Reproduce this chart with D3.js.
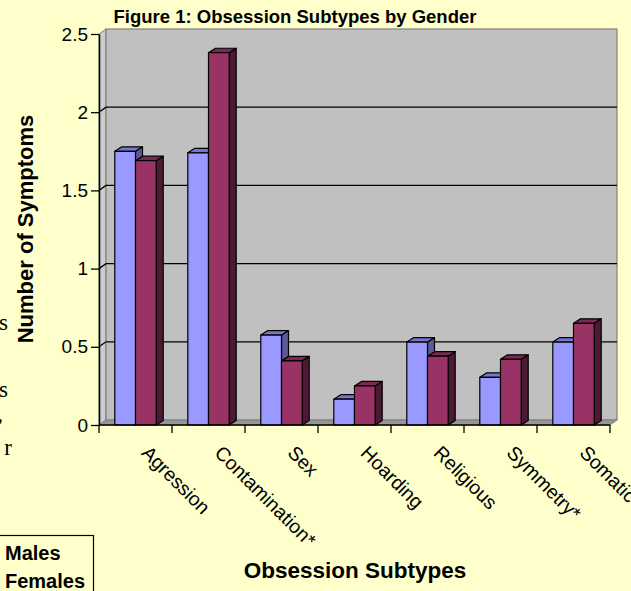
<!DOCTYPE html>
<html>
<head>
<meta charset="utf-8">
<script src="https://cdn.jsdelivr.net/npm/d3@7"></script>
<style>
  html, body { margin: 0; padding: 0; background: #FFFFCC; overflow: hidden; }
  svg { display: block; }
  text { font-family: "Liberation Sans", Arial, sans-serif; fill: #000; }
</style>
</head>
<body>
<svg id="chart" width="631" height="591"></svg>
<script>
// Obsession subtypes: mean number of symptoms by gender
const categories = ["Agression", "Contamination*", "Sex", "Hoarding", "Religious", "Symmetry*", "Somatic"];
const series = ["Males", "Females"];
const males   = [1.75, 1.74, 0.575, 0.165, 0.53, 0.305, 0.53];
const females = [1.69, 2.38, 0.41, 0.25, 0.44, 0.42, 0.65];
const yTicks = [0, 0.5, 1, 1.5, 2, 2.5];
const yTickLabels = ["0", "0.5", "1", "1.5", "2", "2.5"];

const values = { Males: males, Females: females };
const faces = {
  Males:   { front: "#9999FF", top: "#7676CC", side: "#5A5A99" },
  Females: { front: "#993366", top: "#7A2952", side: "#4C1A33" }
};

const svg = d3.select("#chart");

// front plane of the 3-D box and the depth offset of the back wall
const left = 99, right = 610, base = 425, topY = 34;
const wdx = 7, wdy = -5;   // wall depth
const bdx = 7, bdy = -4.5; // bar depth

const x = d3.scaleBand().domain(categories).range([left, right]).padding(0);
const xs = d3.scaleBand().domain(series).range([0, x.bandwidth()]).paddingInner(0).paddingOuter(0.763);
const y = d3.scaleLinear().domain([0, 2.5]).range([base, topY]);

const pts = a => a.map(p => p.join(",")).join(" ");

// walls
const box = svg.append("g");
box.append("polygon") // left side wall
  .attr("points", pts([[left, base], [left, topY], [left + wdx, topY + wdy], [left + wdx, base + wdy]]))
  .attr("fill", "#CCCCCC").attr("stroke", "#808080").attr("stroke-width", 1);
box.append("rect") // back wall
  .attr("x", left + wdx).attr("y", topY + wdy)
  .attr("width", right - left).attr("height", base - topY)
  .attr("fill", "#C0C0C0").attr("stroke", "#808080").attr("stroke-width", 1.2);
box.append("polygon") // floor
  .attr("points", pts([[left, base], [left + wdx, base + wdy], [right + wdx, base + wdy], [right, base]]))
  .attr("fill", "#969696").attr("stroke", "#808080").attr("stroke-width", 1);

// gridlines across the back wall and the left wall
const grid = svg.append("g").attr("stroke", "#000").attr("stroke-width", 1.3).attr("fill", "none");
yTicks.filter(v => v > 0 && v < 2.5).forEach(v => {
  grid.append("polyline")
    .attr("points", pts([[left, y(v)], [left + wdx, y(v) + wdy], [right + wdx, y(v) + wdy]]));
});

// bars
const bars = svg.append("g").attr("stroke", "#000").attr("stroke-width", 1.2).attr("stroke-linejoin", "round");
categories.forEach((c, i) => {
  series.forEach(s => {
    const v = values[s][i];
    const x0 = x(c) + xs(s), w = xs.bandwidth(), yv = y(v), y0 = y(0);
    const g = bars.append("g");
    g.append("polygon")
      .attr("points", pts([[x0 + w, yv], [x0 + w + bdx, yv + bdy], [x0 + w + bdx, y0 + bdy], [x0 + w, y0]]))
      .attr("fill", faces[s].side);
    g.append("polygon")
      .attr("points", pts([[x0, yv], [x0 + bdx, yv + bdy], [x0 + w + bdx, yv + bdy], [x0 + w, yv]]))
      .attr("fill", faces[s].top);
    g.append("rect")
      .attr("x", x0).attr("y", yv).attr("width", w).attr("height", y0 - yv)
      .attr("fill", faces[s].front);
  });
});

// y axis
const yAxis = d3.axisLeft(y).tickValues(yTicks).tickSize(8).tickSizeOuter(0).tickPadding(3)
  .tickFormat((d, i) => yTickLabels[i]);
const ya = svg.append("g").attr("transform", `translate(${left},0)`).call(yAxis);
ya.select(".domain").attr("stroke", "#000").attr("stroke-width", 1.5);
ya.selectAll(".tick line").attr("stroke", "#000").attr("stroke-width", 1.3);
ya.selectAll(".tick text").style("font-size", "19px").attr("fill", "#000");

// x axis: line, ticks between categories, rotated labels
const xa = svg.append("g");
xa.append("line").attr("x1", left).attr("x2", right).attr("y1", base).attr("y2", base)
  .attr("stroke", "#000").attr("stroke-width", 1.5);
const bounds = categories.map(c => x(c)).concat([x.range()[1]]);
xa.selectAll("line.tk").data(bounds).join("line").attr("class", "tk")
  .attr("x1", d => d).attr("x2", d => d).attr("y1", base).attr("y2", base + 8)
  .attr("stroke", "#000").attr("stroke-width", 1.3);
xa.selectAll("text").data(categories).join("text")
  .attr("transform", d => `translate(${x(d) + x.bandwidth() / 2 + 5},${base + 29}) rotate(45)`)
  .style("font-size", "19.5px")
  .text(d => d);

// titles
svg.append("text").attr("x", 295).attr("y", 23).attr("text-anchor", "middle")
  .style("font-size", "18.5px").style("font-weight", "bold")
  .text("Figure 1: Obsession Subtypes by Gender");
svg.append("text").attr("transform", "translate(33,229) rotate(-90)").attr("text-anchor", "middle")
  .style("font-size", "22px").style("font-weight", "bold")
  .text("Number of Symptoms");
svg.append("text").attr("x", 355).attr("y", 578).attr("text-anchor", "middle")
  .style("font-size", "22.5px").style("font-weight", "bold")
  .text("Obsession Subtypes");

// legend
const lg = svg.append("g");
lg.append("rect").attr("x", -70).attr("y", 535.5).attr("width", 163.5).attr("height", 80)
  .attr("fill", "#FFFFCC").attr("stroke", "#000").attr("stroke-width", 1.2);
series.forEach((s, i) => {
  lg.append("rect").attr("x", -30).attr("y", 547 + i * 28).attr("width", 12).attr("height", 12)
    .attr("fill", faces[s].front).attr("stroke", "#000");
  lg.append("text").attr("x", 5).attr("y", 560 + i * 28)
    .style("font-size", "20px").style("font-weight", "bold").text(s);
});

// surrounding document text running under the chart's left edge
const side = svg.append("g");
[["s", 8, 330], ["s", 8, 397], [",", 3, 421], ["r", 12, 455]].forEach(([t, xe, yb]) => {
  side.append("text").attr("x", xe).attr("y", yb).attr("text-anchor", "end")
    .style("font-family", "'Liberation Serif', 'Times New Roman', serif").style("font-size", "23px").text(t);
});
</script>
</body>
</html>
